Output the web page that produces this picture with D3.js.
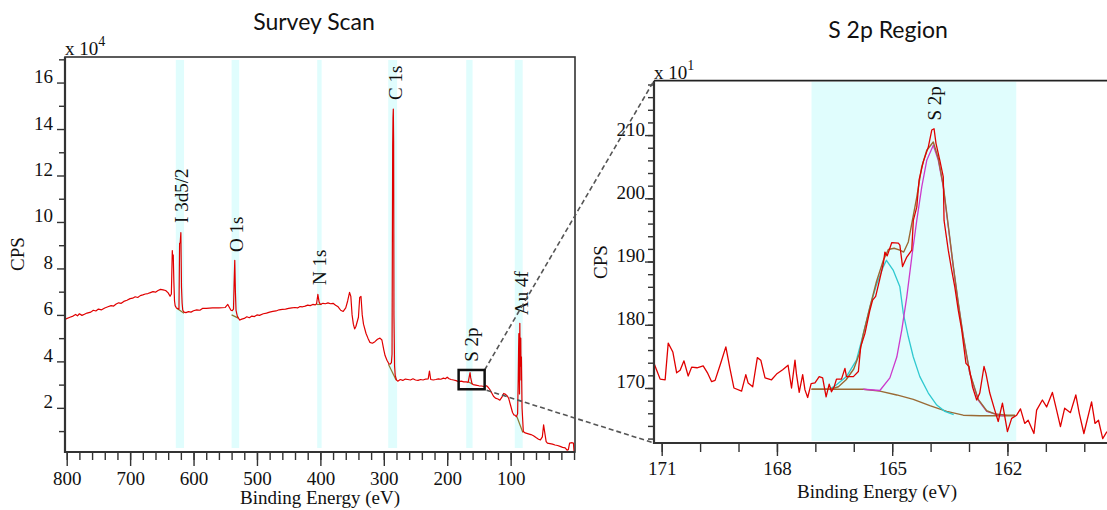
<!DOCTYPE html>
<html>
<head>
<meta charset="utf-8">
<script src="https://cdn.jsdelivr.net/npm/d3@7"></script>
<style>
  body { margin: 0; background: #fff; }
  svg { display: block; }
</style>
</head>
<body>
<svg id="chart" width="1107" height="510"></svg>
<script>
// ---------- Survey scan (counts in units of 10^4 CPS) ----------
const surveyEnergy = [
  802, 795, 790, 786, 783, 780, 776, 772, 768, 762, 758, 754, 750, 745, 740, 735, 730, 726, 722, 718,
  714, 710, 705, 700, 696, 692, 688, 684, 680, 676, 672, 668, 664, 660, 656, 652, 648, 644, 640, 637,
  635, 633.5, 633, 632, 631, 630, 629, 627, 623, 622, 621, 620, 619, 618, 617, 615, 612, 608, 604, 600,
  595, 590, 586, 580, 570, 560, 550, 546, 543, 541, 539, 537, 536, 535, 534, 533, 531, 529, 527, 524,
  520, 516, 512, 508, 504, 500, 496, 490, 485, 480, 475, 470, 465, 460, 455, 450, 445, 440, 436, 432,
  428, 424, 420, 416, 412, 408, 406, 404, 402, 400, 396, 392, 388, 384, 380, 376, 372, 368, 364, 360,
  357, 354, 352, 350, 348, 346, 344, 340, 338, 336, 334, 332, 328, 325, 322, 318, 314, 310, 306, 303,
  300, 298, 295, 292, 290, 288, 287, 286, 285.5, 285, 284.5, 284, 283, 282, 280, 278, 274, 270, 266, 262,
  258, 254, 250, 246, 242, 238, 234, 230, 228, 226, 222, 218, 214, 210, 206, 203, 200, 197, 194, 190,
  186, 182, 178, 174, 170, 167, 165, 164, 163, 161, 159, 155, 150, 146, 142, 138, 136, 133, 130, 127,
  124, 120, 117, 114, 111, 108, 105, 103, 100, 97, 95, 93, 91, 89, 88, 87.5, 87, 86.5, 86, 85.5,
  85, 84.5, 84, 83.5, 83, 82, 80, 77, 72, 68, 64, 60, 56, 53, 50, 48, 46, 44, 42, 38,
  34, 30, 26, 22, 18, 14, 11, 9, 7, 3, 1, 0
];
const surveyCounts = [
  5.82, 5.90, 5.95, 6.02, 5.96, 6.05, 5.98, 6.03, 6.08, 6.12, 6.20, 6.17, 6.25, 6.22, 6.30, 6.35, 6.40, 6.38, 6.47, 6.52,
  6.50, 6.58, 6.63, 6.70, 6.72, 6.78, 6.75, 6.83, 6.86, 6.90, 6.92, 6.96, 7.00, 6.98, 7.05, 7.10, 7.08, 7.05, 6.95, 6.80,
  6.90, 8.77, 8.50, 8.58, 7.40, 6.60, 6.40, 6.30, 6.25, 9.08, 9.10, 9.54, 7.20, 6.50, 6.20, 6.12, 6.10, 6.14, 6.12, 6.18,
  6.22, 6.20, 6.28, 6.28, 6.30, 6.30, 6.32, 6.45, 6.30, 6.20, 6.18, 6.25, 7.40, 8.35, 7.00, 6.20, 5.95, 5.85, 5.78, 5.82,
  5.85, 5.92, 5.88, 5.95, 5.93, 6.00, 5.98, 6.05, 6.08, 6.12, 6.15, 6.17, 6.22, 6.24, 6.25, 6.28, 6.30, 6.32, 6.30, 6.36,
  6.35, 6.38, 6.42, 6.40, 6.45, 6.43, 6.48, 6.88, 6.55, 6.45, 6.50, 6.48, 6.52, 6.48, 6.50, 6.42, 6.35, 6.20, 6.15, 6.30,
  6.60, 6.97, 6.80, 6.00, 5.60, 5.40, 5.50, 5.90, 6.75, 6.80, 6.00, 5.60, 5.20, 5.00, 4.82, 4.78, 4.85, 4.95, 5.00, 4.92,
  4.50, 4.25, 4.05, 3.90, 3.88, 3.95, 4.30, 13.24, 14.46, 14.86, 13.50, 6.00, 3.80, 3.40, 3.20, 3.15, 3.22, 3.18, 3.24, 3.22,
  3.20, 3.25, 3.20, 3.18, 3.22, 3.20, 3.24, 3.25, 3.58, 3.22, 3.20, 3.22, 3.25, 3.23, 3.28, 3.25, 3.32, 3.25, 3.22, 3.20,
  3.17, 3.12, 3.15, 3.12, 3.12, 3.10, 3.38, 3.52, 3.30, 3.05, 3.00, 2.98, 2.95, 2.94, 2.92, 2.95, 2.90, 2.80, 2.65, 2.50,
  2.42, 2.38, 2.33, 2.45, 2.62, 2.58, 2.50, 2.40, 2.10, 1.80, 1.70, 1.68, 1.62, 1.75, 3.30, 4.40, 5.20, 4.00, 2.60, 5.64,
  3.80, 4.80, 5.00, 3.20, 4.20, 2.00, 0.98, 0.92, 0.88, 0.85, 0.80, 0.72, 0.65, 0.62, 0.75, 1.27, 0.90, 0.55, 0.48, 0.46,
  0.44, 0.40, 0.38, 0.34, 0.30, 0.28, 0.18, 0.20, 0.48, 0.50, 0.48, 0.12
];

// Fitted backgrounds under each survey peak (start/end energy and counts)
const surveyBgStartE = [626.5, 540, 406, 292.7, 167, 90.2];
const surveyBgEndE   = [615, 529.4, 398, 280.6, 160, 80.7];
const surveyBgStartC = [6.29, 6.00, 6.45, 3.88, 3.12, 1.63];
const surveyBgEndC   = [6.07, 5.86, 6.45, 3.20, 3.02, 0.94];

// Highlighted peak regions (binding energy ranges, eV)
const surveyRegionHigh = [628, 540, 405, 293, 170, 93.5];
const surveyRegionLow  = [615, 528, 398, 279, 160, 81];

// Peak names and where their labels sit (energy, counts)
const surveyPeakNames  = ["I 3d5/2", "O 1s", "N 1s", "C 1s", "S 2p", "Au 4f"];
const surveyPeakEnergy = [618.6, 532.2, 402, 282, 162.3, 83.4];
const surveyPeakLabelY = [9.96, 8.71, 7.29, 15.25, 3.98, 6.0];

// Zoom window marked on the survey (energy range, counts range)
const zoomBoxEnergy = [182, 141];
const zoomBoxCounts = [2.8, 3.63];

// Survey axes
const surveyMajorX = [800, 700, 600, 500, 400, 300, 200, 100];
const surveyMinorX = d3.range(0, 801, 20);
const surveyMajorY = [2, 4, 6, 8, 10, 12, 14, 16];
const surveyMinorY = [1, 3, 5, 7, 9, 11, 13, 15, 17];

// ---------- S 2p region (counts in units of 10^1 CPS) ----------
const s2pEnergy = [
  171.20, 171.04, 170.91, 170.83, 170.71, 170.61, 170.52, 170.42, 170.31, 170.22, 170.08, 169.92, 169.80, 169.70, 169.61,
  169.47, 169.33, 169.22, 169.12, 168.92, 168.81, 168.75, 168.63, 168.51, 168.42, 168.31, 168.14, 168.01, 167.85, 167.71,
  167.62, 167.53, 167.49, 167.42, 167.33, 167.27, 167.20, 167.11, 167.01, 166.90, 166.81, 166.72, 166.64, 166.58, 166.51,
  166.45, 166.32, 166.23, 166.19, 166.01, 165.88, 165.82, 165.71, 165.58, 165.51, 165.43, 165.32, 165.23, 165.19, 165.13,
  165.01, 164.84, 164.80, 164.73, 164.62, 164.49, 164.45, 164.36, 164.30, 164.19, 164.06, 163.97, 163.91, 163.86, 163.76,
  163.67, 163.65, 163.54, 163.45, 163.37, 163.28, 163.19, 163.08, 163.00, 162.91, 162.80, 162.72, 162.61, 162.56, 162.46,
  162.33, 162.24, 162.13, 162.00, 161.89, 161.76, 161.66, 161.55, 161.46, 161.31, 161.24, 161.09, 160.98, 160.83, 160.72,
  160.62, 160.51, 160.36, 160.22, 160.13, 160.01, 159.81, 159.72, 159.63, 159.52, 159.41
];
const s2pCounts = [
  173.9, 171.4, 171.3, 177.1, 175.7, 172.4, 172.8, 174.3, 171.9, 173.3, 173.2, 173.5, 172.3, 171.0, 171.2,
  173.8, 176.5, 173.0, 170.0, 169.5, 172.1, 170.8, 170.2, 174.8, 174.4, 171.6, 171.3, 172.2, 172.9, 173.6,
  170.0, 174.4, 172.1, 169.3, 172.1, 169.7, 168.5, 170.7, 170.8, 171.8, 171.6, 168.6, 170.6, 169.4, 170.2,
  171.4, 171.4, 173.1, 171.8, 171.8, 172.6, 176.5, 178.6, 182.3, 183.9, 184.5, 187.3, 189.7, 191.5, 190.9,
  193.0, 192.9, 192.6, 189.2, 190.7, 191.8, 196.5, 198.6, 202.9, 205.8, 208.1, 210.8, 211.0, 208.7, 206.0,
  203.4, 196.5, 191.8, 188.6, 186.0, 182.3, 179.2, 173.9, 173.4, 170.2, 168.1, 169.2, 173.4, 172.3, 169.2,
  166.5, 164.7, 167.6, 163.1, 165.2, 165.7, 166.7, 164.4, 164.9, 162.8, 166.5, 168.1, 167.0, 169.3, 166.5,
  163.9, 166.8, 166.1, 168.9, 166.0, 162.8, 167.8, 164.4, 164.9, 162.0, 163.1
];

// Shirley-type background
const s2pBgEnergy = [167.10, 165.75, 165.32, 164.88, 164.45, 164.02, 163.58, 163.15, 162.72, 161.80];
const s2pBgCounts = [169.8, 169.8, 169.5, 168.9, 168.2, 167.2, 166.3, 165.7, 165.6, 165.6];

// Component 1 (S 2p1/2), drawn on top of the background
const s2pComp1Energy = [166.60, 166.45, 166.19, 165.93, 165.75, 165.58, 165.41, 165.23, 165.15, 164.97, 164.80, 164.71,
  164.58, 164.45, 164.28, 164.06, 163.84, 163.63, 163.40];
const s2pComp1Counts = [169.9, 170.5, 171.8, 174.4, 178.6, 182.8, 186.3, 189.2, 190.2, 188.6, 186.0, 181.8,
  178.1, 174.9, 171.8, 169.2, 167.3, 166.3, 165.8];

// Component 2 (S 2p3/2), drawn on top of the background
const s2pComp2Energy = [165.75, 165.32, 165.06, 164.88, 164.75, 164.62, 164.49, 164.36, 164.23, 164.10, 163.93, 163.80,
  163.67, 163.54, 163.41, 163.28, 163.15, 162.98, 162.76, 162.54, 162.33, 162.10];
const s2pComp2Counts = [169.8, 169.6, 171.6, 174.9, 179.2, 184.4, 190.7, 196.5, 201.8, 206.0, 208.4, 206.0,
  201.8, 195.5, 189.2, 183.4, 178.1, 172.3, 168.1, 166.3, 165.9, 165.6];

// Sum of the fit
const s2pEnvEnergy = [167.10, 166.60, 166.40, 166.20, 166.00, 165.85, 165.75, 165.58, 165.41, 165.23, 165.10, 164.95,
  164.80, 164.70, 164.58, 164.49, 164.36, 164.23, 164.10, 163.93, 163.80, 163.67, 163.54, 163.41, 163.28, 163.15,
  162.98, 162.76, 162.54, 162.33, 162.00, 161.80];
const s2pEnvCounts = [169.8, 169.8, 170.2, 171.3, 173.0, 175.5, 178.6, 182.8, 186.8, 190.2, 191.9, 192.1,
  191.8, 191.5, 193.1, 196.0, 200.2, 205.0, 207.6, 208.9, 206.3, 202.0, 195.7, 189.3, 183.5, 178.2,
  172.4, 168.2, 166.4, 165.9, 165.7, 165.7];

const s2pRegion = [167.1, 161.77];
const s2pLabelName = "S 2p";
const s2pLabelEnergy = 163.89;
const s2pLabelY = 212.3;

const s2pMajorX = [171, 168, 165, 162];
const s2pMinorX = d3.range(160, 172, 1);
const s2pMajorY = [170, 180, 190, 200, 210];
const s2pMinorY = d3.range(162, 219, 2);

// ---------- drawing ----------
const serif = "'Liberation Serif','Times New Roman',serif";
const sans = "Lato,'Open Sans','Noto Sans',sans-serif";
const axisColor = "#333";
const svg = d3.select("#chart");

function styleAxis(g) {
  g.select(".domain").remove();
  g.selectAll(".tick line").attr("stroke", axisColor).attr("stroke-width", 1.4);
  g.selectAll("text").attr("font-family", serif).attr("font-size", 19).attr("fill", "#111");
}

// Survey panel
const L = { left: 65, right: 575, top: 57, bottom: 452 };
const xS = d3.scaleLinear().domain([802.7, -1.5]).range([L.left, L.right]);
const yS = d3.scaleLinear().domain([0.1, 17.1]).range([L.bottom, L.top]);

svg.append("clipPath").attr("id", "clipL").append("rect")
  .attr("x", L.left).attr("y", L.top).attr("width", L.right - L.left).attr("height", L.bottom - L.top);

const gL = svg.append("g");
gL.append("g").selectAll("rect").data(d3.range(surveyRegionHigh.length)).join("rect")
  .attr("x", i => xS(surveyRegionHigh[i]))
  .attr("width", i => xS(surveyRegionLow[i]) - xS(surveyRegionHigh[i]))
  .attr("y", L.top + 3).attr("height", L.bottom - L.top - 7)
  .attr("fill", "#e0fdfd");

const lineS = d3.line().x(d => xS(d[0])).y(d => yS(d[1]));
gL.append("g").attr("clip-path", "url(#clipL)").selectAll("path").data(d3.range(surveyBgStartE.length)).join("path")
  .attr("d", i => lineS([[surveyBgStartE[i], surveyBgStartC[i]], [surveyBgEndE[i], surveyBgEndC[i]]]))
  .attr("fill", "none").attr("stroke", "#8a7a30").attr("stroke-width", 1.2);

gL.append("path").attr("clip-path", "url(#clipL)")
  .datum(d3.zip(surveyEnergy, surveyCounts))
  .attr("d", lineS).attr("fill", "none").attr("stroke", "#e00000").attr("stroke-width", 1.2)
  .attr("stroke-linejoin", "round");

// survey axes
gL.append("g").attr("transform", `translate(0,${L.bottom})`)
  .call(d3.axisBottom(xS).tickValues(surveyMinorX).tickSize(8).tickFormat("")).call(styleAxis);
gL.append("g").attr("transform", `translate(0,${L.bottom})`)
  .call(d3.axisBottom(xS).tickValues(surveyMajorX).tickSize(14)).call(styleAxis)
  .selectAll("text").attr("y", 33).attr("dy", null);
gL.append("g").attr("transform", `translate(${L.left},0)`)
  .call(d3.axisLeft(yS).tickValues(surveyMinorY).tickSize(6).tickFormat("")).call(styleAxis);
gL.append("g").attr("transform", `translate(${L.left},0)`)
  .call(d3.axisLeft(yS).tickValues(surveyMajorY).tickSize(8)).call(styleAxis)
  .selectAll("text").attr("x", -12).attr("dy", null);

// frame
gL.append("rect").attr("x", L.left).attr("y", L.top).attr("width", L.right - L.left).attr("height", L.bottom - L.top)
  .attr("fill", "none").attr("stroke", axisColor).attr("stroke-width", 1.6);
gL.append("line").attr("x1", L.left).attr("x2", L.left).attr("y1", L.top).attr("y2", L.bottom + 1)
  .attr("stroke", axisColor).attr("stroke-width", 2.2);
gL.append("line").attr("x1", L.left).attr("x2", L.right).attr("y1", L.bottom).attr("y2", L.bottom)
  .attr("stroke", axisColor).attr("stroke-width", 2.2);

// peak labels
gL.append("g").selectAll("text").data(d3.range(surveyPeakNames.length)).join("text")
  .attr("transform", i => `translate(${xS(surveyPeakEnergy[i])},${yS(surveyPeakLabelY[i])}) rotate(-90)`)
  .attr("dy", "0.35em").attr("font-family", serif).attr("font-size", 19).attr("fill", "#111")
  .text(i => surveyPeakNames[i]);

// titles and scale
svg.append("text").attr("x", 314).attr("y", 30).attr("text-anchor", "middle")
  .attr("font-family", sans).attr("font-size", 23).attr("fill", "#111").text("Survey Scan");
const mL = svg.append("text").attr("x", L.left).attr("y", 55).attr("font-family", serif).attr("font-size", 19).attr("fill", "#111");
mL.append("tspan").text("x 10");
mL.append("tspan").attr("dy", -9).attr("font-size", 14).text("4");
svg.append("text").attr("transform", `translate(24,254) rotate(-90)`).attr("text-anchor", "middle")
  .attr("font-family", serif).attr("font-size", 19).attr("fill", "#111").text("CPS");
svg.append("text").attr("x", (L.left + L.right) / 2).attr("y", 504).attr("text-anchor", "middle")
  .attr("font-family", serif).attr("font-size", 19).attr("fill", "#111").text("Binding Energy (eV)");

// S 2p panel
const R = { left: 654, right: 1115, top: 80.7, bottom: 443 };
const xR = d3.scaleLinear().domain([171.2, 159.2]).range([R.left, R.right]);
const yR = d3.scaleLinear().domain([161.3, 218.6]).range([R.bottom, R.top]);

svg.append("clipPath").attr("id", "clipR").append("rect")
  .attr("x", R.left).attr("y", R.top).attr("width", R.right - R.left).attr("height", R.bottom - R.top);

const gR = svg.append("g");
gR.append("rect").attr("x", xR(s2pRegion[0])).attr("width", xR(s2pRegion[1]) - xR(s2pRegion[0]))
  .attr("y", R.top + 1).attr("height", R.bottom - R.top - 3).attr("fill", "#e0fdfd");

const lineR = d3.line().x(d => xR(d[0])).y(d => yR(d[1]));
const drawR = (e, c, color, w) => gR.append("path").attr("clip-path", "url(#clipR)")
  .datum(d3.zip(e, c)).attr("d", lineR).attr("fill", "none")
  .attr("stroke", color).attr("stroke-width", w).attr("stroke-linejoin", "round");
drawR(s2pBgEnergy, s2pBgCounts, "#9a6a35", 1.4);
drawR(s2pComp1Energy, s2pComp1Counts, "#2fc9d0", 1.3);
drawR(s2pComp2Energy, s2pComp2Counts, "#cc3acc", 1.3);
drawR(s2pEnvEnergy, s2pEnvCounts, "#9a6a35", 1.4);
drawR(s2pEnergy, s2pCounts, "#e00000", 1.3);

gR.append("g").attr("transform", `translate(0,${R.bottom})`)
  .call(d3.axisBottom(xR).tickValues(s2pMinorX).tickSize(9).tickFormat("")).call(styleAxis);
gR.append("g").attr("transform", `translate(0,${R.bottom})`)
  .call(d3.axisBottom(xR).tickValues(s2pMajorX).tickSize(13)).call(styleAxis)
  .selectAll("text").attr("y", 32).attr("dy", null);
gR.append("g").attr("transform", `translate(${R.left},0)`)
  .call(d3.axisLeft(yR).tickValues(s2pMinorY).tickSize(6).tickFormat("")).call(styleAxis);
gR.append("g").attr("transform", `translate(${R.left},0)`)
  .call(d3.axisLeft(yR).tickValues(s2pMajorY).tickSize(9)).call(styleAxis)
  .selectAll("text").attr("x", -9).attr("dy", null);

gR.append("line").attr("x1", R.left).attr("x2", R.right).attr("y1", R.top).attr("y2", R.top)
  .attr("stroke", "#222").attr("stroke-width", 1.8);
gR.append("line").attr("x1", R.left).attr("x2", R.left).attr("y1", R.top).attr("y2", R.bottom + 1)
  .attr("stroke", axisColor).attr("stroke-width", 2.2);
gR.append("line").attr("x1", R.left).attr("x2", R.right).attr("y1", R.bottom).attr("y2", R.bottom)
  .attr("stroke", axisColor).attr("stroke-width", 2.2);

gR.append("text")
  .attr("transform", `translate(${xR(s2pLabelEnergy)},${yR(s2pLabelY)}) rotate(-90)`)
  .attr("dy", "0.35em").attr("font-family", serif).attr("font-size", 19).attr("fill", "#111")
  .text(s2pLabelName);

svg.append("text").attr("x", 888).attr("y", 38).attr("text-anchor", "middle")
  .attr("font-family", sans).attr("font-size", 23).attr("fill", "#111").text("S 2p Region");
const mR = svg.append("text").attr("x", R.left).attr("y", 79).attr("font-family", serif).attr("font-size", 19).attr("fill", "#111");
mR.append("tspan").text("x 10");
mR.append("tspan").attr("dy", -9).attr("font-size", 14).text("1");
svg.append("text").attr("transform", `translate(607,262) rotate(-90)`).attr("text-anchor", "middle")
  .attr("font-family", serif).attr("font-size", 19).attr("fill", "#111").text("CPS");
svg.append("text").attr("x", 877).attr("y", 498).attr("text-anchor", "middle")
  .attr("font-family", serif).attr("font-size", 19).attr("fill", "#111").text("Binding Energy (eV)");

// zoom box on the survey and connectors to the S 2p panel
const bx0 = xS(zoomBoxEnergy[0]), bx1 = xS(zoomBoxEnergy[1]);
const by0 = yS(zoomBoxCounts[1]), by1 = yS(zoomBoxCounts[0]);
svg.append("line").attr("x1", bx1).attr("y1", by0).attr("x2", R.left).attr("y2", R.top)
  .attr("stroke", "#555").attr("stroke-width", 1.6).attr("stroke-dasharray", "5,3");
svg.append("line").attr("x1", bx1 + 2).attr("y1", by1 + 1).attr("x2", R.left).attr("y2", R.bottom)
  .attr("stroke", "#555").attr("stroke-width", 1.6).attr("stroke-dasharray", "5,3");
svg.append("rect").attr("x", bx0).attr("y", by0).attr("width", bx1 - bx0).attr("height", by1 - by0)
  .attr("fill", "none").attr("stroke", "#111").attr("stroke-width", 2.5);
</script>
</body>
</html>
